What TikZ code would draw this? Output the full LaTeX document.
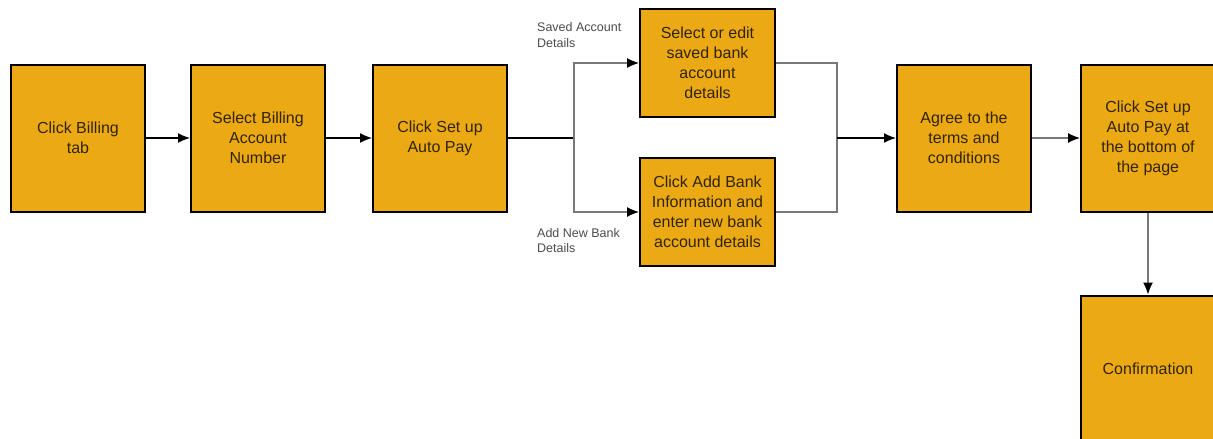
\documentclass[tikz,border=0pt]{standalone}
\usepackage{fontspec}
\setmainfont{Liberation Sans}
\usepackage{xcolor}
\usetikzlibrary{arrows.meta}
\usetikzlibrary{calc}
\definecolor{boxfill}{RGB}{235,170,20}
\definecolor{boxtext}{RGB}{50,35,10}
\definecolor{linegray}{RGB}{120,120,120}
\tikzset{> = {Latex[length=12pt,width=10pt,color=black]}}
\tikzset{
	stepbox/.style={draw=black,line width=2pt,fill=boxfill,text=boxtext,align=center,
		minimum width=134pt,minimum height=147pt,inner sep=2pt,
		font=\fontsize{16}{20}\selectfont},
	pathbox/.style={stepbox,minimum height=108pt,minimum width=135pt},
	branchlbl/.style={anchor=west,align=left,text=black!70,inner sep=0pt,
		font=\fontsize{12.5}{15.5}\selectfont},
	mainline/.style={->,line width=1.4pt,black},
	grayline/.style={->,line width=1.2pt,linegray},
}

\begin{document}
\begin{tikzpicture}[x=1pt,y=-1pt]
	\useasboundingbox[fill=white](0,0)rectangle(1213,439);
	\node[stepbox](billing)at(78,138){Click Billing\\tab};
	\node[stepbox](account)at(258,138){Select Billing\\Account\\Number};
	\node[stepbox](setup)at(440,138){Click Set up\\Auto Pay};
	\node[pathbox](saved)at(707.5,63){Select or edit\\saved bank\\account\\details};
	\node[pathbox](addbank)at(707.5,212){Click Add Bank\\Information and\\enter new bank\\account details};
	\node[stepbox](terms)at(964,138){Agree to the\\terms and\\conditions};
	\node[stepbox](bottom)at(1148,138){Click Set up\\Auto Pay at\\the bottom of\\the page};
	\node[stepbox](confirm)at(1148,369){Confirmation};
	\node[branchlbl](savedlbl)at(537,35){Saved Account\\Details};
	\node[branchlbl](addlbl)at(537,240.5){Add New Bank\\Details};
	\coordinate(split)at(574,138);
	\coordinate(merge)at(837,138);
	% main row
	\draw[mainline](billing)--(account);
	\draw[mainline](account)--(setup);
	\draw[line width=1.4pt](setup)--(split);
	% branches
	\draw[grayline](split)|-(saved);
	\draw[grayline](split)|-(addbank);
	\draw[grayline,-](saved.east)-|(merge);
	\draw[grayline,-](addbank.east)-|(merge);
	\draw[mainline](merge)--(terms);
	\draw[grayline](terms)--(bottom);
	\draw[grayline](bottom)--(confirm);
\end{tikzpicture}
\end{document}
